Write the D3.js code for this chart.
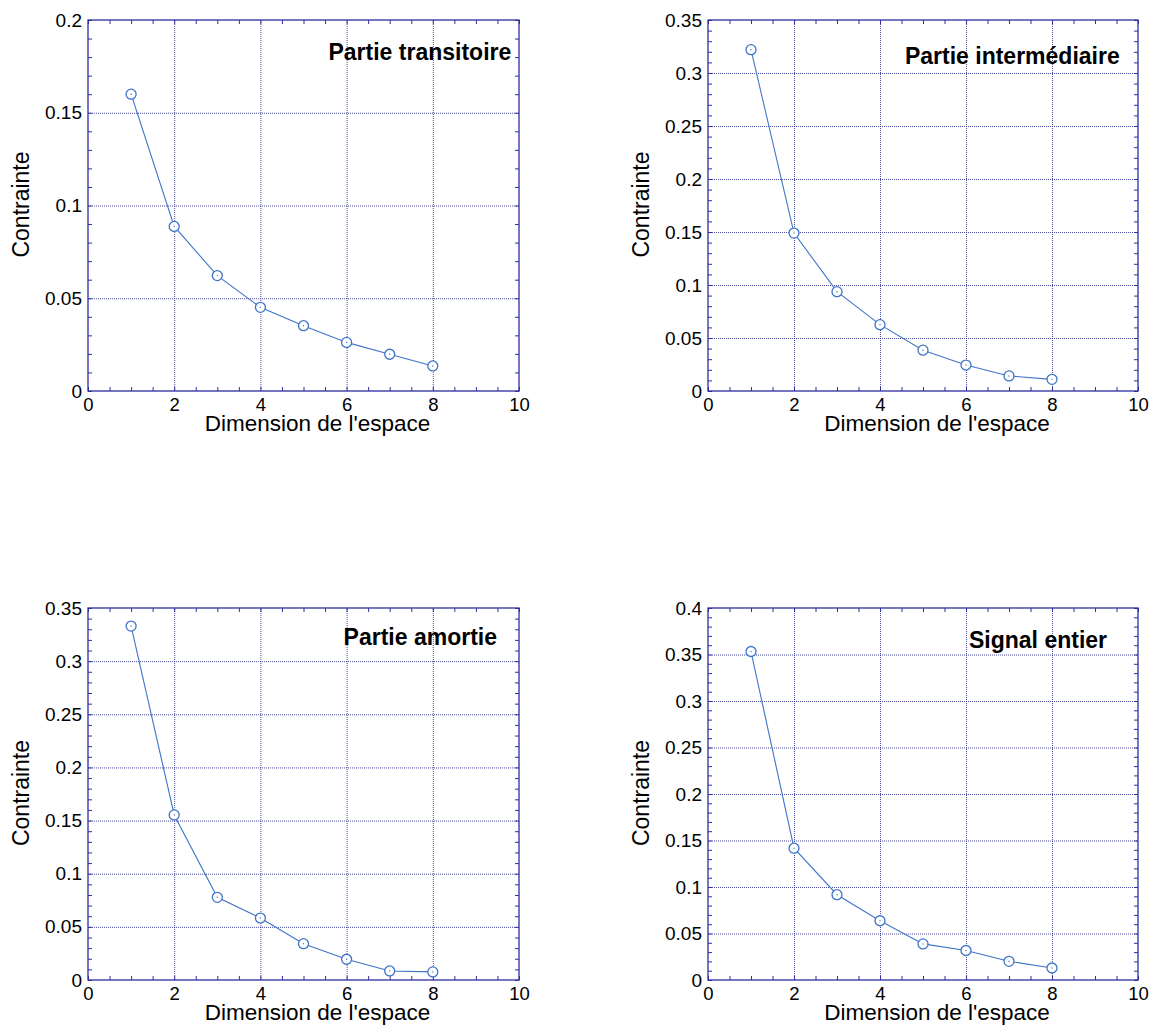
<!DOCTYPE html>
<html>
<head>
<meta charset="utf-8">
<script src="https://cdn.jsdelivr.net/npm/d3@7"></script>
<style>
  html, body { margin: 0; padding: 0; background: #ffffff; }
  svg { display: block; }
  text { font-family: "Liberation Sans", Arial, sans-serif; }
</style>
</head>
<body>
<svg id="chart" width="1157" height="1032"></svg>
<script>
// ---------- DATA ----------
const dimensions = [1, 2, 3, 4, 5, 6, 7, 8];
const xTicks = [0, 2, 4, 6, 8, 10];

const titles = ["Partie transitoire", "Partie intermédiaire", "Partie amortie", "Signal entier"];

const transitoire   = [0.160, 0.0887, 0.0622, 0.0451, 0.0352, 0.0262, 0.0198, 0.0135];
const intermediaire = [0.322, 0.149, 0.0937, 0.0626, 0.0385, 0.0245, 0.0142, 0.0110];
const amortie       = [0.333, 0.1553, 0.0778, 0.0583, 0.0342, 0.0195, 0.0085, 0.0076];
const entier        = [0.3532, 0.1417, 0.0917, 0.0637, 0.0388, 0.0317, 0.0201, 0.0129];

const yMaxes = [0.2, 0.35, 0.35, 0.4];
const yTicks1 = [0, 0.05, 0.1, 0.15, 0.2];
const yTicks2 = [0, 0.05, 0.1, 0.15, 0.2, 0.25, 0.3, 0.35];
const yTicks3 = [0, 0.05, 0.1, 0.15, 0.2, 0.25, 0.3, 0.35];
const yTicks4 = [0, 0.05, 0.1, 0.15, 0.2, 0.25, 0.3, 0.35, 0.4];

const xLabel = "Dimension de l'espace";
const yLabel = "Contrainte";

// ---------- LAYOUT ----------
const series = [transitoire, intermediaire, amortie, entier];
const yTickSets = [yTicks1, yTicks2, yTicks3, yTicks4];
const panels = [
  { left: 88,  top: 20,  right: 519,  bottom: 391, titleX: 5.58, titleDy: 40 },
  { left: 708, top: 20,  right: 1138, bottom: 391, titleX: 4.58, titleDy: 44 },
  { left: 88,  top: 608, right: 519,  bottom: 980, titleX: 5.93, titleDy: 37 },
  { left: 708, top: 608, right: 1138, bottom: 980, titleX: 6.07, titleDy: 40 }
];

const axisColor = "#2e2ea0";
const gridColor = "#2b2b8a";
const lineColor = "#3f74c9";

const svg = d3.select("#chart");

panels.forEach((p, i) => {
  const w = p.right - p.left, h = p.bottom - p.top;
  const x = d3.scaleLinear().domain([0, 10]).range([p.left, p.right]);
  const y = d3.scaleLinear().domain([0, yMaxes[i]]).range([p.bottom, p.top]);
  const g = svg.append("g");

  const yMinor = d3.range(0, Math.round(yMaxes[i] / 0.01) + 1).map(k => +(k * 0.01).toFixed(2));
  const xMinor = d3.range(0, 21).map(k => k * 0.5);

  // grid lines (dotted)
  g.append("g")
    .attr("transform", `translate(0,${p.bottom})`)
    .call(d3.axisBottom(x).tickValues(xTicks.slice(1, -1)).tickSize(-h).tickFormat(""))
    .call(s => s.select(".domain").remove())
    .call(s => s.selectAll("line").attr("stroke", gridColor).attr("stroke-dasharray", "1,1").attr("stroke-width", 1).attr("opacity", 0.85));
  g.append("g")
    .attr("transform", `translate(${p.left},0)`)
    .call(d3.axisLeft(y).tickValues(yTickSets[i].slice(1, -1)).tickSize(-w).tickFormat(""))
    .call(s => s.select(".domain").remove())
    .call(s => s.selectAll("line").attr("stroke", gridColor).attr("stroke-dasharray", "1,1").attr("stroke-width", 1).attr("opacity", 0.85));

  // minor inward ticks on all four sides
  const tickStyle = s => {
    s.select(".domain").remove();
    s.selectAll("line").attr("stroke", axisColor).attr("stroke-width", 1);
  };
  g.append("g").attr("transform", `translate(0,${p.bottom})`)
    .call(d3.axisBottom(x).tickValues(xMinor).tickSize(-4).tickFormat("")).call(tickStyle);
  g.append("g").attr("transform", `translate(0,${p.top})`)
    .call(d3.axisTop(x).tickValues(xMinor).tickSize(-4).tickFormat("")).call(tickStyle);
  g.append("g").attr("transform", `translate(${p.left},0)`)
    .call(d3.axisLeft(y).tickValues(yMinor).tickSize(-4).tickFormat("")).call(tickStyle);
  g.append("g").attr("transform", `translate(${p.right},0)`)
    .call(d3.axisRight(y).tickValues(yMinor).tickSize(-4).tickFormat("")).call(tickStyle);

  // labelled axes
  g.append("g").attr("transform", `translate(0,${p.bottom})`)
    .call(d3.axisBottom(x).tickValues(xTicks).tickSize(0).tickPadding(7).tickFormat(d3.format("d")))
    .call(s => s.select(".domain").remove())
    .call(s => s.selectAll("text").attr("fill", "#000").style("font-size", "18.5px").attr("dy", "0.72em"));
  g.append("g").attr("transform", `translate(${p.left},0)`)
    .call(d3.axisLeft(y).tickValues(yTickSets[i]).tickSize(0).tickPadding(6).tickFormat(d => String(+d.toFixed(2))))
    .call(s => s.select(".domain").remove())
    .call(s => s.selectAll("text").attr("fill", "#000").style("font-size", "19px"));

  // frame
  g.append("rect")
    .attr("x", p.left).attr("y", p.top).attr("width", w).attr("height", h)
    .attr("fill", "none").attr("stroke", axisColor).attr("stroke-width", 1.3);

  // data line
  const pts = dimensions.map((d, k) => [d, series[i][k]]);
  g.append("path")
    .datum(pts)
    .attr("fill", "none").attr("stroke", lineColor).attr("stroke-width", 1.1)
    .attr("d", d3.line().x(d => x(d[0])).y(d => y(d[1])));
  g.selectAll("circle.m").data(pts).join("circle")
    .attr("class", "m")
    .attr("cx", d => x(d[0])).attr("cy", d => y(d[1])).attr("r", 5)
    .attr("fill", "#ffffff").attr("stroke", lineColor).attr("stroke-width", 1.3);
  g.selectAll("circle.c").data(pts).join("circle")
    .attr("class", "c")
    .attr("cx", d => x(d[0])).attr("cy", d => y(d[1])).attr("r", 0.7)
    .attr("fill", lineColor);

  // panel title
  g.append("text")
    .attr("x", x(p.titleX)).attr("y", p.top + p.titleDy)
    .attr("font-weight", "bold").style("font-size", "23px").attr("fill", "#000")
    .text(titles[i]);

  // axis labels
  g.append("text")
    .attr("x", (p.left + p.right) / 2 + 14).attr("y", p.bottom + 40)
    .attr("text-anchor", "middle").style("font-size", "22.5px").attr("fill", "#000")
    .text(xLabel);
  g.append("text")
    .attr("transform", `translate(${p.left - 59},${(p.top + p.bottom) / 2 - 1}) rotate(-90)`)
    .attr("text-anchor", "middle").style("font-size", "23px").attr("fill", "#000")
    .text(yLabel);
});
</script>
</body>
</html>
